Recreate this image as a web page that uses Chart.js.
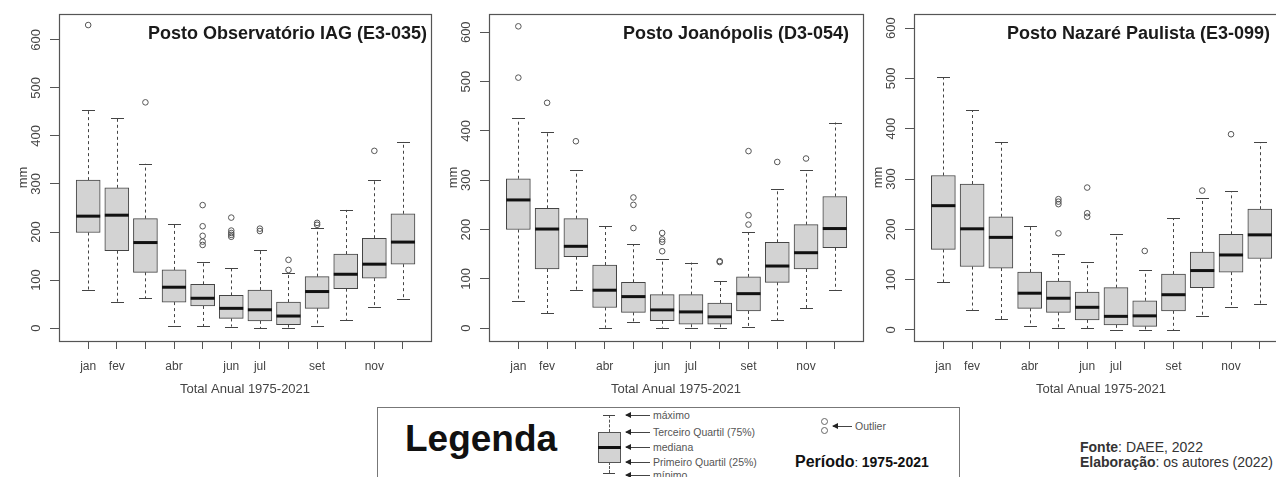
<!DOCTYPE html>
<html>
<head>
<meta charset="utf-8">
<script src="https://cdn.jsdelivr.net/npm/chart.js@4.4.0/dist/chart.umd.min.js"></script>
<style>
    body { margin: 0; width: 1276px; height: 477px; overflow: hidden; background: #fff; position: relative;
           font-family: "Liberation Sans", Arial, sans-serif; }
    canvas { position: absolute; top: 0; }
    .abs { position: absolute; white-space: nowrap; }
    .lbl { font-size: 10.5px; line-height: 10.5px; color: #555; }
    .arr { position: absolute; height: 1px; background: #444; }
    .arr::before { content: ""; position: absolute; left: -1px; top: -3px;
                   border-right: 6px solid #222; border-top: 3.5px solid transparent; border-bottom: 3.5px solid transparent; }
</style>
</head>
<body>
<canvas id="p1" width="436" height="400" style="left:0px"></canvas>
<canvas id="p2" width="438" height="400" style="left:430px"></canvas>
<canvas id="p3" width="438" height="400" style="left:855px"></canvas>

<!-- legenda -->
<div class="abs" style="left:377px;top:407px;width:581px;height:90px;border:1px solid #777;"></div>
<div class="abs" style="left:405px;top:420px;font-size:37px;line-height:37px;font-weight:bold;color:#111;">Legenda</div>

<div class="abs" style="left:609px;top:415px;height:17px;border-left:1px dashed #555;"></div>
<div class="abs" style="left:609px;top:462px;height:11px;border-left:1px dashed #555;"></div>
<div class="abs" style="left:603px;top:415px;width:12px;height:1px;background:#444;"></div>
<div class="abs" style="left:603px;top:473px;width:12px;height:1px;background:#444;"></div>
<div class="abs" style="left:598px;top:432px;width:21px;height:29px;background:#d3d3d3;border:1px solid #555;"></div>
<div class="abs" style="left:598px;top:446px;width:23px;height:3px;background:#111;"></div>

<div class="arr" style="left:626px;top:415px;width:24px;"></div>
<div class="arr" style="left:626px;top:432px;width:24px;"></div>
<div class="arr" style="left:626px;top:447px;width:24px;"></div>
<div class="arr" style="left:626px;top:462px;width:24px;"></div>
<div class="arr" style="left:626px;top:475px;width:24px;"></div>
<div class="abs lbl" style="left:653px;top:410px;">máximo</div>
<div class="abs lbl" style="left:653px;top:427px;">Terceiro Quartil (75%)</div>
<div class="abs lbl" style="left:653px;top:442px;">mediana</div>
<div class="abs lbl" style="left:653px;top:457px;">Primeiro Quartil (25%)</div>
<div class="abs lbl" style="left:653px;top:470px;">mínimo</div>

<div class="abs" style="left:821px;top:418px;width:5px;height:5px;border:1px solid #666;border-radius:50%;"></div>
<div class="abs" style="left:821px;top:427px;width:5px;height:5px;border:1px solid #666;border-radius:50%;"></div>
<div class="arr" style="left:833px;top:426px;width:19px;"></div>
<div class="abs lbl" style="left:855px;top:421px;">Outlier</div>

<div class="abs" style="left:795px;top:453px;line-height:18px;color:#111;">
    <span style="font-size:16px;font-weight:bold;">Período</span><span style="font-size:13px;">: </span><span style="font-size:14px;font-weight:bold;">1975-2021</span>
</div>

<div class="abs" style="left:1080px;top:440px;font-size:14px;line-height:14px;color:#333;"><b>Fonte</b>: DAEE, 2022</div>
<div class="abs" style="left:1080px;top:455px;font-size:14px;line-height:14px;color:#333;"><b>Elaboração</b>: os autores (2022)</div>

<script>
// meses (R omite os rótulos que se sobrepõem)
const months = ["jan", "fev", "mar", "abr", "mai", "jun", "jul", "ago", "set", "out", "nov", "dez"];
const shownMonths = ["jan", "fev", "abr", "jun", "jul", "set", "nov"];
const yTicks = [0, 100, 200, 300, 400, 500, 600];

// Posto Observatório IAG (E3-035)
const iagMin = [79, 54, 62, 4, 4, 3, 0, 1, 4, 17, 43, 60];
const iagQ1 = [199, 161, 116, 54, 46, 20, 15, 7, 41, 82, 104, 133];
const iagMed = [233, 235, 178, 85, 62, 41, 38, 25, 76, 112, 133, 179];
const iagQ3 = [308, 292, 228, 121, 91, 68, 79, 54, 107, 154, 187, 238];
const iagMax = [454, 438, 342, 217, 137, 125, 162, 115, 209, 246, 308, 388];
const iagOut = [[631], [], [470], [], [256, 212, 192, 180, 173], [230, 203, 198, 194, 190], [207, 202], [142, 121], [219, 215], [], [369], []];

// Posto Joanópolis (D3-054)
const joaMin = [55, 30, 77, 1, 12, 1, 1, 1, 3, 16, 40, 77];
const joaQ1 = [200, 120, 145, 42, 32, 15, 8, 8, 35, 93, 120, 163];
const joaMed = [260, 201, 166, 77, 64, 37, 33, 23, 70, 126, 153, 202];
const joaQ3 = [303, 243, 222, 128, 93, 68, 68, 51, 104, 174, 210, 267];
const joaMax = [426, 397, 320, 207, 170, 141, 133, 96, 194, 283, 320, 417];
const joaOut = [[612, 508], [457], [379], [], [265, 250, 203], [193, 180, 175, 156], [], [136, 134], [359, 229, 210], [337], [344], []];

// Posto Nazaré Paulista (E3-099)
const nazMin = [95, 40, 21, 7, 3, 3, 0, 0, 0, 28, 45, 51];
const nazQ1 = [160, 126, 123, 43, 35, 20, 10, 7, 38, 84, 115, 142];
const nazMed = [247, 201, 184, 73, 63, 45, 27, 28, 70, 118, 149, 189];
const nazQ3 = [307, 290, 225, 115, 97, 75, 84, 58, 111, 155, 190, 240];
const nazMax = [502, 437, 373, 207, 150, 135, 191, 119, 222, 262, 276, 373];
const nazOut = [[], [], [], [], [260, 255, 250, 192], [283, 232, 225], [], [157], [], [277], [389], []];

const FONT = "'Liberation Sans', Arial, sans-serif";

// desenha bigodes, medianas, moldura, título e rótulos do eixo y
function boxplotPlugin(st) {
    return {
        id: "boxplot",
        beforeDatasetsDraw(chart) {
            const { ctx, scales: { x, y } } = chart;
            ctx.save();
            ctx.strokeStyle = "#444";
            ctx.lineWidth = 1;
            st.min.forEach((lo, i) => {
                const px = Math.round(x.getPixelForValue(i + 1)) + 0.5;
                ctx.setLineDash([3, 3]);
                ctx.beginPath();
                ctx.moveTo(px, y.getPixelForValue(st.q3[i]));
                ctx.lineTo(px, y.getPixelForValue(st.max[i]));
                ctx.moveTo(px, y.getPixelForValue(st.q1[i]));
                ctx.lineTo(px, y.getPixelForValue(lo));
                ctx.stroke();
                ctx.setLineDash([]);
                ctx.beginPath();
                [lo, st.max[i]].forEach(v => {
                    const py = Math.round(y.getPixelForValue(v)) + 0.5;
                    ctx.moveTo(px - 6.5, py);
                    ctx.lineTo(px + 6.5, py);
                });
                ctx.stroke();
            });
            ctx.restore();
        },
        afterDatasetsDraw(chart) {
            const { ctx, chartArea: a, scales: { x, y } } = chart;
            const bars = chart.getDatasetMeta(0).data;
            ctx.save();
            ctx.strokeStyle = "#111";
            ctx.lineWidth = 3;
            st.med.forEach((m, i) => {
                const py = y.getPixelForValue(m);
                ctx.beginPath();
                ctx.moveTo(bars[i].x - bars[i].width / 2, py);
                ctx.lineTo(bars[i].x + bars[i].width / 2, py);
                ctx.stroke();
            });

            // moldura
            ctx.strokeStyle = "#555";
            ctx.lineWidth = 1.2;
            ctx.strokeRect(a.left + 0.5, a.top + 0.5, a.right - a.left, a.bottom - a.top);

            // rótulos do eixo y (girados como no R)
            ctx.fillStyle = "#444";
            ctx.font = "13px " + FONT;
            ctx.textAlign = "center";
            ctx.textBaseline = "middle";
            yTicks.forEach(v => {
                ctx.save();
                ctx.translate(a.left - 23, y.getPixelForValue(v));
                ctx.rotate(-Math.PI / 2);
                ctx.fillText(String(v), 0, 0);
                ctx.restore();
            });

            // título do posto
            ctx.fillStyle = "#1a1a1a";
            ctx.font = "bold 18px " + FONT;
            ctx.textAlign = "right";
            ctx.fillText(st.title, a.right - st.titleInset, a.top + 20);
            ctx.restore();
        }
    };
}

function stationChart(canvasId, st) {
    const ctx = document.getElementById(canvasId);
    if (!ctx) return;

    const outliers = st.out.flatMap((vals, i) => vals.map(v => ({ x: i + 1, y: v })));

    return new Chart(ctx, {
        type: "bar",
        data: {
            datasets: [
                {
                    data: months.map((m, i) => ({ x: i + 1, y: [st.q1[i], st.q3[i]] })),
                    backgroundColor: "#d3d3d3",
                    borderColor: "#444",
                    borderWidth: 1,
                    borderSkipped: false,
                    barThickness: 24
                },
                {
                    type: "scatter",
                    data: outliers,
                    pointStyle: "circle",
                    pointRadius: 2.8,
                    pointBorderWidth: 1,
                    pointBorderColor: "#555",
                    pointBackgroundColor: "rgba(0,0,0,0)"
                }
            ]
        },
        options: {
            responsive: false,
            animation: false,
            events: [],
            layout: { padding: { top: 14, right: 2, left: 0, bottom: 0 } },
            plugins: { legend: { display: false }, tooltip: { enabled: false } },
            scales: {
                x: {
                    type: "linear",
                    min: -0.02,
                    max: 12.98,
                    offset: false,
                    afterBuildTicks: s => { s.ticks = months.map((m, i) => ({ value: i + 1 })); },
                    afterFit: s => { s.height = 59; },
                    grid: { offset: false, drawOnChartArea: false, drawTicks: true, tickLength: 8, color: "#555" },
                    border: { display: false },
                    ticks: {
                        autoSkip: false,
                        maxRotation: 0,
                        padding: 10,
                        color: "#444",
                        font: { family: FONT, size: 12 },
                        callback: v => shownMonths.includes(months[v - 1]) ? months[v - 1] : ""
                    },
                    title: {
                        display: true,
                        text: "Total Anual 1975-2021",
                        color: "#444",
                        font: { family: FONT, size: 13 },
                        padding: { top: 0, bottom: 3 }
                    }
                },
                y: {
                    min: st.yMin,
                    max: st.yMax,
                    afterBuildTicks: s => { s.ticks = yTicks.map(v => ({ value: v })); },
                    afterFit: s => { s.width = 59; },
                    grid: { drawOnChartArea: false, drawTicks: true, tickLength: 9, color: "#555" },
                    border: { display: false },
                    ticks: { display: false },
                    title: {
                        display: true,
                        text: "mm",
                        color: "#444",
                        font: { family: FONT, size: 13 },
                        padding: { top: 16, bottom: 0 }
                    }
                }
            }
        },
        plugins: [boxplotPlugin(st)]
    });
}

stationChart("p1", {
    title: "Posto Observatório IAG (E3-035)", titleInset: 4, yMin: -27, yMax: 654,
    min: iagMin, q1: iagQ1, med: iagMed, q3: iagQ3, max: iagMax, out: iagOut
});
stationChart("p2", {
    title: "Posto Joanópolis (D3-054)", titleInset: 14, yMin: -26, yMax: 637,
    min: joaMin, q1: joaQ1, med: joaMed, q3: joaQ3, max: joaMax, out: joaOut
});
stationChart("p3", {
    title: "Posto Nazaré Paulista (E3-099)", titleInset: 18, yMin: -22, yMax: 628,
    min: nazMin, q1: nazQ1, med: nazMed, q3: nazQ3, max: nazMax, out: nazOut
});
</script>
</body>
</html>
